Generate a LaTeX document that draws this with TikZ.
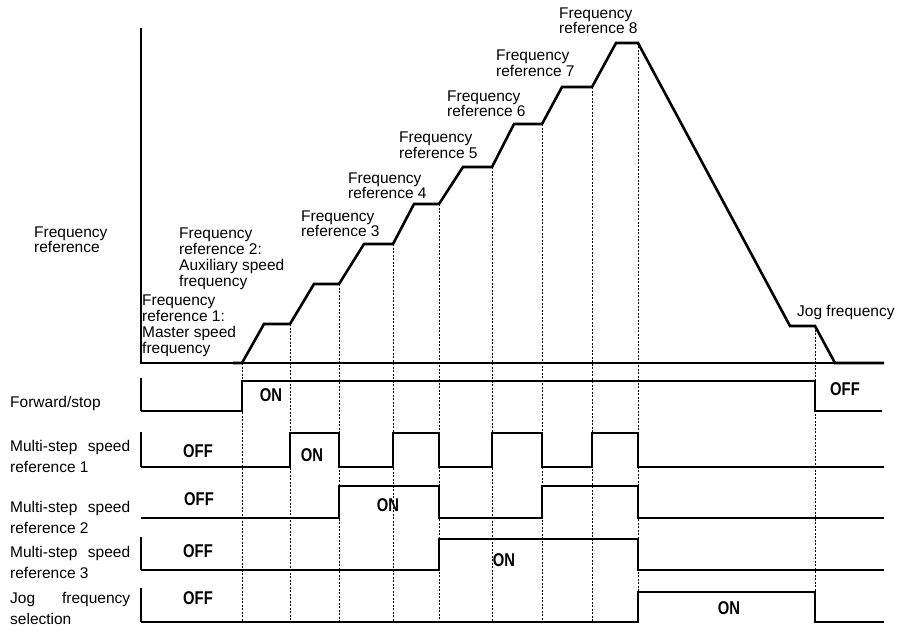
\documentclass[tikz,border=0pt]{standalone}
\usepackage{fontspec}
\setmainfont{Liberation Sans}
\newcommand{\onofftxt}[1]{\scalebox{0.8}[1]{#1}}
\begin{document}
\begin{tikzpicture}[x=1pt,y=-1pt,
  lbl/.style={font=\fontsize{15.5}{16}\selectfont, inner sep=0pt, anchor=north west, align=left},
  lbltight/.style={lbl, font=\fontsize{15.5}{13.5}\selectfont},
  rowlbl/.style={font=\fontsize{15.5}{20.5}\selectfont, inner sep=0pt, anchor=north west, align=left},
  sig/.style={line width=2.6pt, line join=miter},
  axisline/.style={line width=1.3pt},
  rowtick/.style={line width=1.6pt},
  guide/.style={line width=0.8pt, dash pattern=on 2pt off 1.5pt},
  onoff/.style={font=\fontsize{18.5}{18.5}\selectfont\bfseries, inner sep=0pt}
]
\useasboundingbox (0,0) rectangle (897,626);

% guide lines
\foreach \gx/\gy in {242/363, 290/324, 339/284, 393/244, 439/204, 492/167, 542/124, 592/87, 638/43, 815/326}
  \draw[guide] (\gx,\gy) -- (\gx,622);

% axes of the frequency graph
\draw[axisline] (141,28) -- (141,363) -- (884,363);

% frequency profile
\draw[sig] (233,363) -- (242,363) -- (264,324) -- (290,324) -- (314,284) -- (339,284)
  -- (364,244) -- (393,244) -- (414,204) -- (439,204) -- (463,167) -- (492,167)
  -- (514,124) -- (542,124) -- (562,87) -- (592,87) -- (616,43) -- (638,43)
  -- (790,326) -- (815,326) -- (835,363) -- (884,363);

% labels of the graph
\node[lbltight, font=\fontsize{15.5}{12}\selectfont] (fr) at (34,226.5) {Frequency\\reference};
\node[lbl] (f1) at (142,294.5) {Frequency\\reference 1:\\Master speed\\frequency};
\node[lbl] (f2) at (179,227.5) {Frequency\\reference 2:\\Auxiliary speed\\frequency};
\node[lbl, font=\fontsize{15.5}{15}\selectfont] (f3) at (301,210.5) {Frequency\\reference 3};
\node[lbltight] (f4) at (348,172.5) {Frequency\\reference 4};
\node[lbl] (f5) at (399,131.5) {Frequency\\reference 5};
\node[lbltight] (f6) at (447,90.5) {Frequency\\reference 6};
\node[lbl] (f7) at (496,49.5) {Frequency\\reference 7};
\node[lbltight] (f8) at (559,7.5) {Frequency\\reference 8};
\node[lbl] (fj) at (797,305.5) {Jog frequency};

% row labels
\node[rowlbl] (rfs) at (10,396.5) {Forward/stop};
\node[rowlbl] (r1) at (10,440.5) {\makebox[120pt][s]{Multi-step speed}\\reference 1};
\node[rowlbl] (r2) at (10,501.5) {\makebox[120pt][s]{Multi-step speed}\\reference 2};
\node[rowlbl] (r3) at (10,546.5) {\makebox[120pt][s]{Multi-step speed}\\reference 3};
\node[rowlbl] (rj) at (10,592.5) {\makebox[120pt][s]{Jog frequency}\\selection};

% row ticks
\draw[rowtick] (141,378) -- (141,411);
\draw[rowtick] (141,432) -- (141,467);
\draw[rowtick] (141,537) -- (141,570);
\draw[rowtick] (141,588) -- (141,622);

% signals
\draw[sig] (141,411) -- (242,411) -- (242,381) -- (815,381) -- (815,411) -- (882,411);
\draw[sig] (141,467) -- (290,467) -- (290,433) -- (339,433) -- (339,467) -- (393,467)
  -- (393,433) -- (439,433) -- (439,467) -- (492,467) -- (492,433) -- (542,433)
  -- (542,467) -- (592,467) -- (592,433) -- (638,433) -- (638,467) -- (884,467);
\draw[sig] (141,518) -- (339,518) -- (339,486) -- (439,486) -- (439,518) -- (542,518)
  -- (542,486) -- (638,486) -- (638,518) -- (884,518);
\draw[sig] (141,570) -- (439,570) -- (439,539) -- (638,539) -- (638,570) -- (884,570);
\draw[sig] (141,622) -- (638,622) -- (638,592) -- (815,592) -- (815,622) -- (884,622);

% ON / OFF texts
\node[onoff] (fson) at (271,395) {\onofftxt{ON}};
\node[onoff] (fsoff) at (845,389) {\onofftxt{OFF}};
\node[onoff] (m1off) at (198,451) {\onofftxt{OFF}};
\node[onoff] (m1on) at (312,455) {\onofftxt{ON}};
\node[onoff] (m2off) at (199,499) {\onofftxt{OFF}};
\node[onoff] (m2on) at (388,505) {\onofftxt{ON}};
\node[onoff] (m3off) at (198,551) {\onofftxt{OFF}};
\node[onoff] (m3on) at (504,560) {\onofftxt{ON}};
\node[onoff] (joff) at (198,598) {\onofftxt{OFF}};
\node[onoff] (jon) at (729,608) {\onofftxt{ON}};
\end{tikzpicture}
\end{document}
